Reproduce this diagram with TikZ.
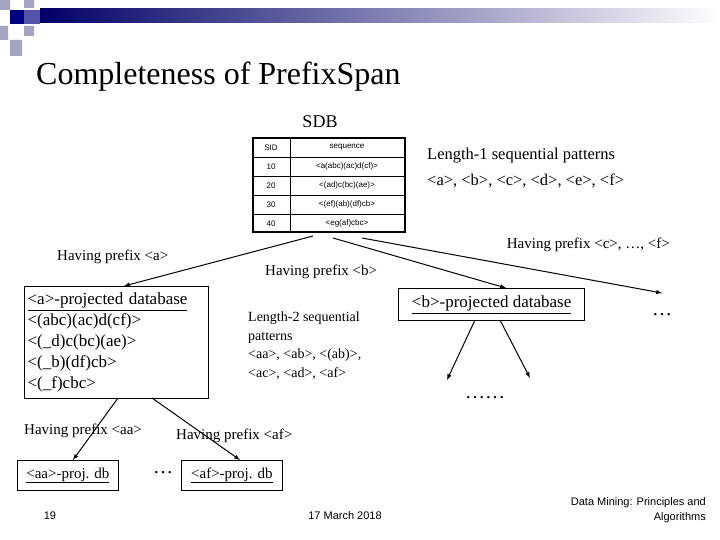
\documentclass[tikz,border=0pt]{standalone}
\usepackage{fontspec}
\setmainfont{Liberation Serif}
\newfontfamily\arialf{Liberation Sans}
\begin{document}
\begin{tikzpicture}[x=1pt,y=-1pt,
 lbl/.style={inner sep=0pt,font=\fontsize{15}{17}\selectfont},
 cell/.style={inner sep=0pt,font=\arialf\fontsize{8}{9}\selectfont},
 arr/.style={-latex,line width=1pt},
 box/.style={draw,line width=1.3pt}]
\useasboundingbox (0,0) rectangle (720,540);
\shade[left color=blue!40!black,right color=white] (40,9) rectangle (720,23);
\fill[blue!20!gray!60] (0,0) rectangle (10,10) (24,0) rectangle (34,8) (0,26) rectangle (8,40) (24,26) rectangle (34,36) (10,40) rectangle (22,56);
\fill[blue!50!black] (10,10) rectangle (24,24);
\fill[blue!35!gray] (24,10) rectangle (40,24);
\node[anchor=west,inner sep=0pt,font=\fontsize{32}{34}\selectfont] (title) at (36,77) {Completeness of PrefixSpan};
\node[inner sep=0pt,font=\fontsize{18}{20}\selectfont] (sdb) at (320,122) {SDB};
% table
\draw[line width=1.2pt] (253,138) rectangle (405,232);
\foreach \y in {157,176,195,214} \draw[line width=0.6pt] (253,\y) -- (405,\y);
\draw[line width=0.6pt] (290,138) -- (290,232);
\node[cell] (h1) at (271,147.5) {SID};
\node[cell] (h2) at (347,147.5) {sequence};
\node[cell] (r1a) at (271,166.5) {10}; \node[cell] (r1b) at (347,166.5) {<a(abc)(ac)d(cf)>};
\node[cell] (r2a) at (271,185.5) {20}; \node[cell] (r2b) at (347,185.5) {<(ad)c(bc)(ae)>};
\node[cell] (r3a) at (271,204.5) {30}; \node[cell] (r3b) at (347,204.5) {<(ef)(ab)(df)cb>};
\node[cell] (r4a) at (271,223.5) {40}; \node[cell] (r4b) at (347,223.5) {<eg(af)cbc>};
\coordinate (t1) at (313,236); \coordinate (t2) at (333,238); \coordinate (t3) at (362,238);
\node[lbl,anchor=west,font=\fontsize{16.5}{18}\selectfont] (l1a) at (427,156) {Length-1 sequential patterns};
\node[lbl,anchor=west,font=\fontsize{16.5}{18}\selectfont] (l1b) at (427,181) {<a>, <b>, <c>, <d>, <e>, <f>};
\node[lbl,anchor=west] (hpa) at (57,257) {Having prefix <a>};
\node[lbl,anchor=west] (hpb) at (265,272) {Having prefix <b>};
\node[lbl,anchor=east] (hpc) at (670,245) {Having prefix <c>, …, <f>};
% a box
\node[box,anchor=north west,align=left,inner sep=3pt,text width=178pt,minimum height=112pt,font=\fontsize{17}{21}\selectfont] (abox) at (24,286)
 {\underline{<a>-projected database}\\<(abc)(ac)d(cf)>\\<(\_d)c(bc)(ae)>\\<(\_b)(df)cb>\\<(\_f)cbc>};
\node[box,anchor=north west,inner sep=4pt,font=\fontsize{17}{19}\selectfont,minimum width=186pt,minimum height=32pt] (bbox) at (398,288) {\underline{<b>-projected database}};
\node[lbl,anchor=north west,align=left,font=\fontsize{14}{18.5}\selectfont] (l2) at (248,312) {Length-2 sequential\\patterns\\<aa>, <ab>, <(ab)>,\\<ac>, <ad>, <af>};
\node[lbl,font=\fontsize{20}{20}\selectfont] (d1) at (662,315) {…};
\node[lbl,font=\fontsize{20}{20}\selectfont] (d2) at (485,398) {……};
\coordinate (e1) at (447,380); \coordinate (e2) at (530,378);
\node[lbl,anchor=west] (hpaa) at (24,431) {Having prefix <aa>};
\node[lbl,anchor=west] (hpaf) at (176,436) {Having prefix <af>};
\node[draw,line width=0.8pt,anchor=north west,minimum width=101pt,minimum height=30pt,inner sep=2pt,font=\fontsize{15}{17}\selectfont] (aabox) at (17,460) {\underline{<aa>-proj. db}};
\node[draw,line width=0.8pt,anchor=north west,minimum width=101pt,minimum height=30pt,inner sep=2pt,font=\fontsize{15}{17}\selectfont] (afbox) at (181,460) {\underline{<af>-proj. db}};
\node[lbl,font=\fontsize{20}{20}\selectfont] (d3) at (163,473) {…};
% arrows
\draw[arr] (t1) -- (abox.north -| 124,0);
\draw[arr] (t2) -- (506,288);
\coordinate (rt) at (662,293);
\draw[arr] (t3) -- (rt);
\draw[arr] (475,320) -- (e1);
\draw[arr] (500,320) -- (e2);
\draw[arr] (118,398) -- (73,460);
\draw[arr] (152,398) -- (240,460);
% footer
\node[inner sep=0pt,font=\arialf\fontsize{11}{13}\selectfont] (pg) at (50,516) {19};
\node[inner sep=0pt,font=\arialf\fontsize{11}{13}\selectfont] (dt) at (345,516) {17 March 2018};
\node[inner sep=0pt,anchor=east,align=right,font=\arialf\fontsize{11}{15}\selectfont] (dm) at (706,510) {Data Mining: Principles and\\Algorithms};
\end{tikzpicture}
\end{document}
